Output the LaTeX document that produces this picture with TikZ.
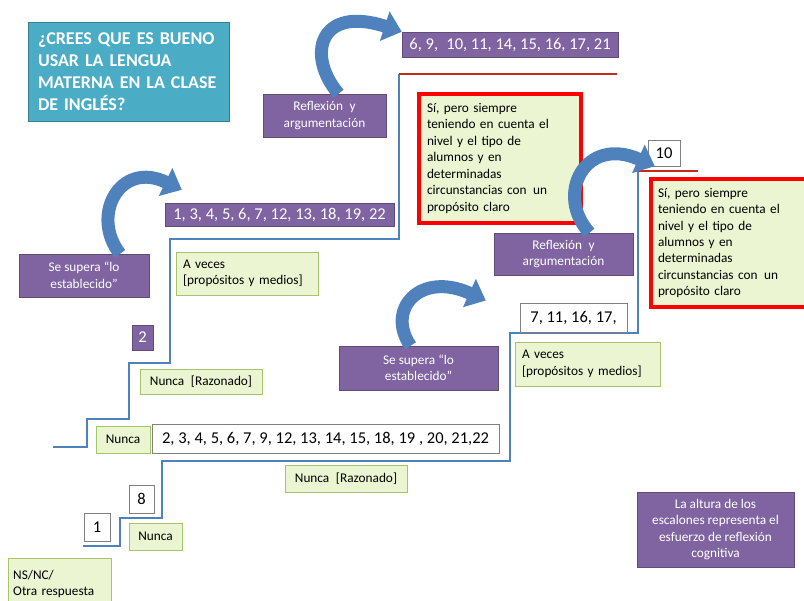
\documentclass[tikz,border=0pt]{standalone}
\usepackage{fontspec}
\setmainfont{Carlito}
\usetikzlibrary{positioning,arrows.meta}
\definecolor{pregunta}{HTML}{4BACC6}
\definecolor{morado}{HTML}{8064A2}
\definecolor{azul}{HTML}{4F81BD}
\definecolor{verdeclaro}{HTML}{EBF5D2}
\definecolor{verdeborde}{HTML}{A6C46A}
\definecolor{rojolinea}{HTML}{C8281E}
\newcommand{\chico}{\fontsize{13.3}{16.5}\selectfont}
\newcommand{\grande}{\fontsize{16.5}{19}\selectfont}

\begin{document}
\begin{tikzpicture}[x=1pt,y=-1pt]
\tikzstyle{preg}=[rectangle, draw=pregunta!75!black, fill=pregunta, text=white, font=\fontsize{18}{22}\selectfont\bfseries, align=left, inner sep=0pt]
\tikzstyle{mor}=[rectangle, draw=morado!75!black, fill=morado, text=white, font=\chico, align=center, inner sep=0pt]
\tikzstyle{caja}=[rectangle, draw=verdeborde, fill=verdeclaro, font=\chico, align=left, inner sep=0pt]
\tikzstyle{cajaroja}=[rectangle, draw=red, line width=4pt, fill=verdeclaro, font=\chico, align=left, inner sep=0pt]
\tikzstyle{num}=[rectangle, draw=gray, fill=white, font=\grande, inner sep=0pt]
\tikzstyle{escalon}=[draw=azul, line width=2.5pt]
\tikzstyle{techo}=[draw=rojolinea, line width=2.5pt]
\tikzstyle{curva}=[draw=azul, line width=13pt, -{Triangle[length=18pt,width=30pt]}]

	\useasboundingbox (0,0) rectangle (804,601);

	% escalones
	\coordinate (e1) at (53,447);
	\draw[escalon] (e1) -- ++(34,0) -- ++(0,-28) -- ++(42,0) -- ++(0,-56) -- ++(41,0)
		-- ++(0,-124) -- ++(229,0) -- ++(0,-165) coordinate (techo1);
	\draw[techo] (techo1) -- ++(218,0);

	\coordinate (e2) at (83,546);
	\draw[escalon] (e2) -- ++(37,0) -- ++(0,-28) -- ++(42,0) -- ++(0,-57) -- ++(348,0)
		-- ++(0,-128) -- ++(128,0) -- ++(0,-162) coordinate (techo2);
	\draw[techo] (techo2) -- ++(60,0);

	\node[preg, minimum width=201pt, minimum height=99pt, text width=181pt] (preg) at (128.5,71.5)
		{¿CREES QUE ES BUENO\\USAR LA LENGUA\\MATERNA EN LA CLASE\\DE INGLÉS?};

	\node[mor, minimum width=123pt, minimum height=43pt] (refl1) at (324.5,115.5) {Reflexión\enspace y\\argumentación};
	\node[mor, minimum width=216pt, minimum height=25pt, font=\grande] (lista1) at (510,44.5) {6, 9,\enspace 10, 11, 14, 15, 16, 17, 21};
	\node[cajaroja, minimum width=162pt, minimum height=129pt, text width=146pt] (rojo1) at (500,158.5)
		{Sí, pero siempre\\teniendo en cuenta el\\nivel y el tipo de\\alumnos y en\\determinadas\\circunstancias con\enspace un\\propósito claro};

	\node[mor, minimum width=229pt, minimum height=23pt, font=\grande] (lista2) at (279.5,214.5) {1, 3, 4, 5, 6, 7, 12, 13, 18, 19, 22};
	\node[mor, minimum width=130pt, minimum height=43pt] (sup1) at (84,275.5) {Se supera “lo\\establecido”};
	\node[caja, minimum width=142pt, minimum height=43pt, text width=128pt] (vec1) at (247,273.5) {A veces\\{}[propósitos y medios]};
	\node[mor, minimum width=21pt, minimum height=25pt, font=\grande] (dos) at (142.5,337.5) {2};
	\node[caja, minimum width=122pt, minimum height=25pt] (nr1) at (201,381.5) {Nunca\enspace[Razonado]};

	\node[caja, minimum width=54pt, minimum height=27pt] (nun1) at (123,439.5) {Nunca};
	\node[num, minimum width=347pt, minimum height=29pt] (lista3) at (325.5,438.5) {2, 3, 4, 5, 6, 7, 9, 12, 13, 14, 15, 18, 19 , 20, 21,22};
	\node[caja, minimum width=122pt, minimum height=27pt] (nr2) at (346,478.5) {Nunca\enspace[Razonado]};

	\node[num, minimum width=25pt, minimum height=28pt] (ocho) at (141.5,499) {8};
	\node[num, minimum width=26pt, minimum height=28pt] (uno) at (97,527) {1};
	\node[caja, minimum width=53pt, minimum height=27pt] (nun2) at (155.5,536.5) {Nunca};
	\node[caja, minimum width=103pt, minimum height=52pt, text width=93pt, anchor=north west] (ns) at (8,558) {NS/NC/\\Otra respuesta};

	\node[mor, minimum width=159pt, minimum height=44pt] (sup2) at (418.5,368) {Se supera “lo\\establecido”};
	\node[num, minimum width=107pt, minimum height=29pt] (lista4) at (573.5,317.5) {7, 11, 16, 17,};
	\node[caja, minimum width=145pt, minimum height=44pt, text width=131pt] (vec2) at (587.5,364) {A veces\\{}[propósitos y medios]};

	\node[mor, minimum width=139pt, minimum height=42pt] (refl2) at (563.5,254) {Reflexión\enspace y\\argumentación};
	\node[num, minimum width=32pt, minimum height=26pt] (diez) at (664,153) {10};
	\node[cajaroja, minimum width=160pt, minimum height=128pt, text width=146pt, anchor=north west] (rojo2) at (649,177)
		{Sí, pero siempre\\teniendo en cuenta el\\nivel y el tipo de\\alumnos y en\\determinadas\\circunstancias con\enspace un\\propósito claro};

	\node[mor, minimum width=157pt, minimum height=75pt] (nota) at (715.5,529.5)
		{La altura de los\\escalones representa el\\esfuerzo de reflexión\\cognitiva};

	% flechas curvas
	\draw[curva] ([xshift=14pt]refl1.north) .. controls +(-33,-39) and +(-82,-27) .. (lista1.north west);
	\draw[curva] ([xshift=36pt]sup1.north) .. controls +(-30,-38) and +(-62,-30) .. ([xshift=17pt,yshift=13pt]lista2.north west);
	\draw[curva] ([xshift=26pt]refl2.north) .. controls +(-35,-38) and +(-70,-31) .. ([xshift=7pt]diez.south west);
	\draw[curva] ([xshift=-8pt]sup2.north) .. controls +(-25,-36) and +(-66,-30) .. ([xshift=-34pt,yshift=17pt]lista4.west);

\end{tikzpicture}
\end{document}
